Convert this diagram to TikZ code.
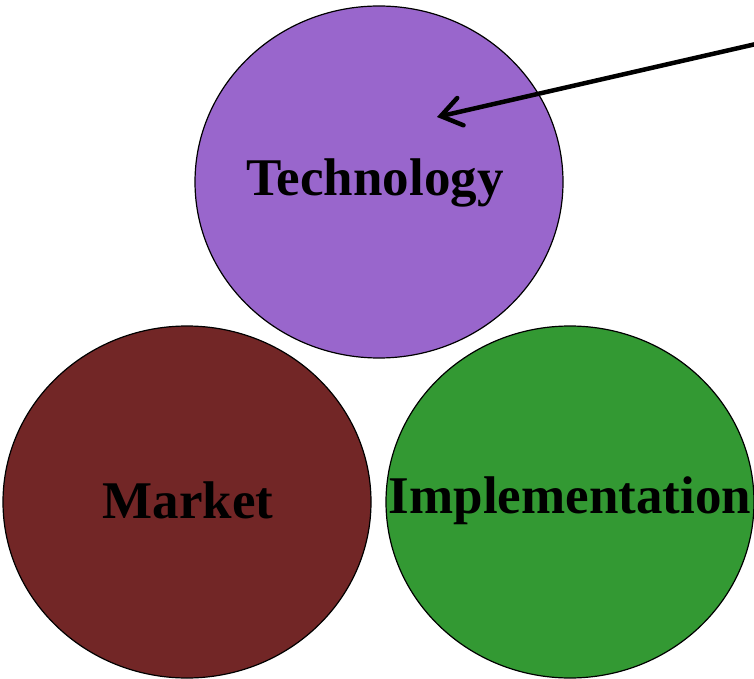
\documentclass[tikz,border=0pt]{standalone}
\usepackage{fontspec}
\setmainfont{Liberation Serif}
\usetikzlibrary{arrows.meta,shapes.geometric}
\definecolor{techpurple}{RGB}{153,102,204}
\definecolor{mktbrown}{RGB}{114,38,38}
\definecolor{implgreen}{RGB}{51,153,51}

\begin{document}
\begin{tikzpicture}[x=1pt,y=1pt,
    blob/.style={draw,ellipse,line width=1.2pt,inner sep=0pt,minimum width=368pt,minimum height=352pt},
    word/.style={font=\fontsize{53}{60}\selectfont\bfseries}]
    \useasboundingbox (0,0) rectangle (754,678);
    \node[blob,fill=techpurple] (tech) at (379,496) {};
    \node[blob,fill=mktbrown] (market) at (187,176) {};
    \node[blob,fill=implgreen] (impl) at (570,176) {};
    \node[word] (techtxt) at (375,495) {Technology};
    \node[word] (mkttxt) at (188,178) {Market};
    \node[word] (impltxt) at (570,177) {Implementation};
    % pointer coming in from the right
    \coordinate (src) at (756,634);
    \coordinate (tip) at (437,561);
    \draw[line width=4.5pt,-{Straight Barb[length=20pt,width=28pt,line cap=round]}] (src) -- (tip);
  \end{tikzpicture}
\end{document}
